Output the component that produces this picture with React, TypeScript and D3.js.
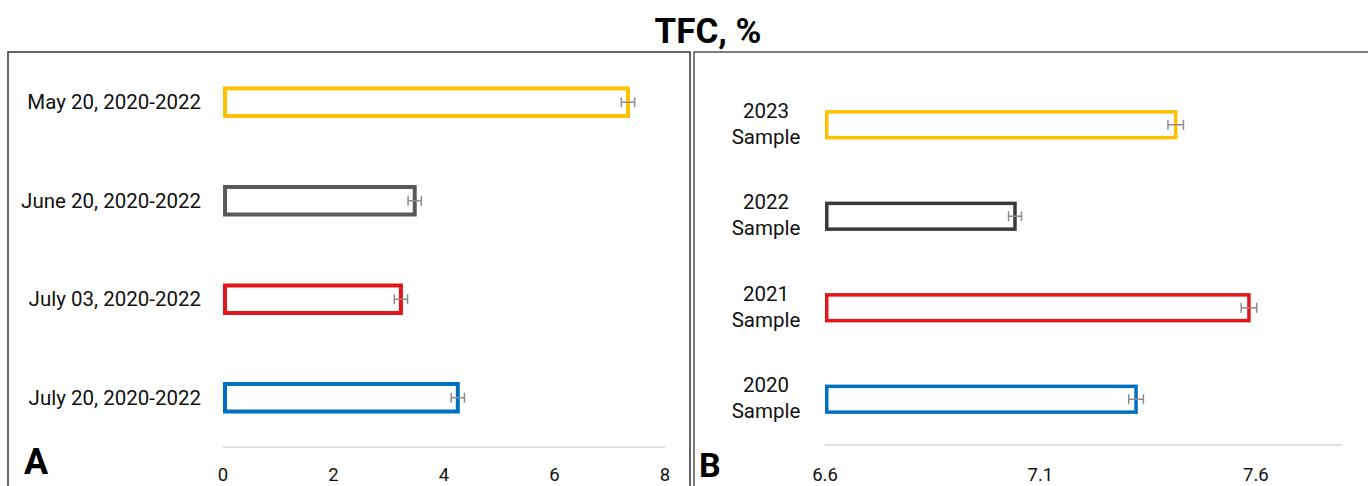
import React from 'react';
import * as d3 from 'd3';

// Panel A: sampling dates
const datesA = ['May 20, 2020-2022', 'June 20, 2020-2022', 'July 03, 2020-2022', 'July 20, 2020-2022'];
const valuesA = [7.33, 3.47, 3.22, 4.25];
const errorsA = [0.12, 0.12, 0.12, 0.12];
const colorsA = ['#FFC000', '#595959', '#E3161B', '#0070C0'];
const ticksA = [0, 2, 4, 6, 8];

// Panel B: sample years
const yearsB = ['2023', '2022', '2021', '2020'];
const valuesB = [7.414, 7.041, 7.584, 7.322];
const errorsB = [0.018, 0.015, 0.018, 0.017];
const colorsB = ['#FFC000', '#3A3A3A', '#E3161B', '#0070C0'];
const ticksB = [6.6, 7.1, 7.6];

const W = 1368;
const H = 486;
const FONT = 'Roboto, "Noto Sans", sans-serif';

type PanelProps = {
  cats: string[];
  values: number[];
  errors: number[];
  colors: string[];
  ticks: number[];
  domain: [number, number];
  xRange: [number, number];
  yRange: [number, number];
  axisY: number;
  stroke: number;
  twoLine?: boolean;
  labelX: number;
  fmt: (v: number) => string;
};

const Panel: React.FC<PanelProps> = ({ cats, values, errors, colors, ticks, domain, xRange, yRange, axisY, stroke, twoLine, labelX, fmt }) => {
  const x = d3.scaleLinear().domain(domain).range(xRange);
  const y = d3.scaleBand<string>().domain(cats).range(yRange).paddingInner(0.68).paddingOuter(0.34);
  const bh = y.bandwidth();
  return (
    <g>
      <line x1={xRange[0]} x2={xRange[1]} y1={axisY} y2={axisY} stroke="#D9D9D9" strokeWidth={1.5} />
      {ticks.map(t => (
        <text key={t} x={x(t)} y={481} textAnchor="middle" fontSize={18.5} fontFamily={FONT} fill="#111">{fmt(t)}</text>
      ))}
      {cats.map((c, i) => {
        const yc = (y(c) ?? 0) + bh / 2;
        const x0 = x(domain[0]);
        const x1 = x(values[i]);
        const e0 = x(values[i] - errors[i]);
        const e1 = x(values[i] + errors[i]);
        return (
          <g key={c}>
            <rect x={x0 + stroke / 2} y={y(c)! + stroke / 2} width={x1 - x0 - stroke / 2} height={bh - stroke}
              fill="#fff" stroke={colors[i]} strokeWidth={stroke} />
            <g stroke="#8C8C8C" strokeWidth={1.5}>
              <line x1={e0} x2={e1} y1={yc} y2={yc} />
              <line x1={e0} x2={e0} y1={yc - 5} y2={yc + 5} />
              <line x1={e1} x2={e1} y1={yc - 5} y2={yc + 5} />
            </g>
            {twoLine ? (
              <text x={labelX} y={yc - 7} textAnchor="middle" fontSize={20.5} fontFamily={FONT} fill="#111">
                <tspan x={labelX} dy={0}>{c}</tspan>
                <tspan x={labelX} dy={26}>Sample</tspan>
              </text>
            ) : (
              <text x={labelX} y={yc} dy="0.35em" textAnchor="end" fontSize={20.5} fontFamily={FONT} fill="#111">{c}</text>
            )}
          </g>
        );
      })}
    </g>
  );
};

export default function App() {
  return (
    <div style={{ position: 'fixed', left: 0, top: 0 }}>
      <svg width={W} height={H} style={{ display: 'block', background: '#fff' }}>
        <text x={708} y={43} textAnchor="middle" fontSize={35} fontWeight={700} fontFamily={FONT} fill="#000">TFC, %</text>
        <rect x={8} y={52} width={682} height={460} fill="none" stroke="#333" strokeWidth={1.5} />
        <rect x={694} y={52} width={700} height={460} fill="none" stroke="#555" strokeWidth={1.5} />
        <Panel cats={datesA} values={valuesA} errors={errorsA} colors={colorsA} ticks={ticksA}
          domain={[0, 8]} xRange={[223, 665]} yRange={[53, 447]} axisY={447} stroke={4}
          labelX={201} fmt={d => String(d)} />
        <Panel cats={yearsB} values={valuesB} errors={errorsB} colors={colorsB} ticks={ticksB}
          domain={[6.6, 7.8]} xRange={[825, 1342]} yRange={[79, 445]} axisY={445} stroke={3.5}
          twoLine labelX={766} fmt={d => d.toFixed(1)} />
        <text x={24} y={474} fontSize={36} fontWeight={700} fontFamily={FONT} fill="#000">A</text>
        <text x={699} y={477} fontSize={34} fontWeight={700} fontFamily={FONT} fill="#000">B</text>
      </svg>
    </div>
  );
}
